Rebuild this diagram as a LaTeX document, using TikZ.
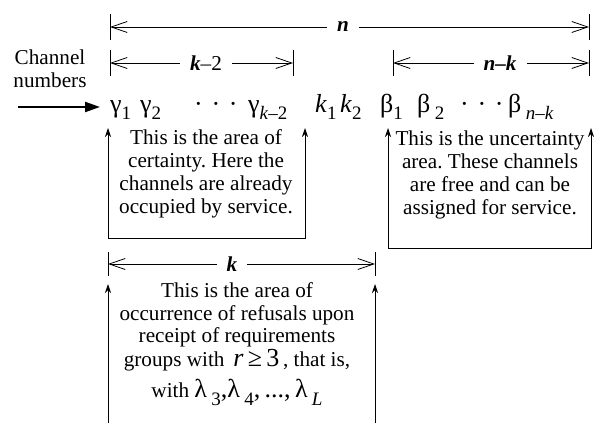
\documentclass[tikz,border=0pt]{standalone}
\usepackage{fontspec}
\setmainfont{Liberation Serif}
\usetikzlibrary{arrows.meta, calc}
\frenchspacing

\newcommand{\chsub}[1]{\raisebox{-0.3em}{\fontsize{19}{19}\selectfont #1}}

\begin{document}
\begin{tikzpicture}[
  x=1pt, y=-1pt,
  txt/.style={font=\fontsize{21.2}{22.8}\selectfont, align=center, inner sep=0pt},
  dimarr/.style={{Straight Barb[length=16pt,width=11pt]}-{Straight Barb[length=16pt,width=11pt]}, line width=0.8pt},
  dimbar/.style={line width=0.8pt},
  dimlab/.style={txt, fill=white, inner xsep=10pt, inner ysep=2pt},
  uparr/.style={{Stealth[length=9pt,width=6pt]}-{Stealth[length=9pt,width=6pt]}, line width=0.8pt},
  feedarr/.style={-{Triangle[length=15pt,width=10pt]}, line width=2.2pt},
  sym/.style={anchor=base west, inner sep=0pt, font=\fontsize{26}{26}\selectfont},
]
\useasboundingbox (0,0) rectangle (597,423);

% --- dimension lines above the channel row ---
\coordinate (nL) at (110,27);   \coordinate (nR) at (589,27);
\coordinate (kmL) at (110,63);  \coordinate (kmR) at (293,63);
\coordinate (nkL) at (393,63);  \coordinate (nkR) at (589,63);
\draw[dimarr] (nL) -- (nR);
\draw[dimarr] (kmL) -- (kmR);
\draw[dimarr] (nkL) -- (nkR);
\foreach \c in {nL,nR,kmL,kmR,nkL,nkR}
  \draw[dimbar] ($(\c)+(0,-13)$) -- ($(\c)+(0,13)$);
\node[dimlab] (nlab) at (343,27) {\textbf{\textit{n}}};
\node[dimlab] (kmlab) at (206,63) {\textbf{\textit{k}}–2};
\node[dimlab] (nklab) at (500,63) {\textbf{\textit{n–k}}};

% --- channel numbers ---
\node[txt] (chan) at (50,69) {Channel\\ numbers};
\coordinate (feed) at (18,107);
\node[sym] (g1) at (110,112) {γ\chsub{1}};
\node[sym] (g2) at (140,112) {γ\chsub{2}};
\node[sym] (gdots) at (194,112) {·\,\,·\,\,·};
\node[sym] (gk) at (248,112) {γ\chsub{\textit{k}–2}};
\node[sym] (k1) at (315,112) {\textit{k}\chsub{1}};
\node[sym] (k2) at (340,112) {\textit{k}\chsub{2}};
\node[sym] (b1) at (380,112) {β\chsub{1}};
\node[sym] (b2) at (417,112) {β\,\chsub{2}};
\node[sym] (bdots) at (460,112) {·\,\,·\,\,·};
\node[sym] (bnk) at (508,112) {β\,\chsub{\textit{n–k}}};
\draw[feedarr] (feed) -- (feed -| 100,0);

% --- area of certainty ---
\node[txt] (certain) at (206,174)
  {This is the area of\\ certainty. Here the\\ channels are already\\ occupied by service.};
\draw[uparr] (108,128) -- (108,238) -- (305,238) -- (305,128);

% --- uncertainty area ---
\node[txt] (uncert) at (490,175)
  {This is the uncertainty\\ area. These channels\\ are free and can be\\ assigned for service.};
\draw[uparr] (388,128) -- (388,248) -- (591,248) -- (591,128);

% --- area of refusals ---
\coordinate (kL) at (108,264); \coordinate (kR) at (375,264);
\draw[dimarr] (kL) -- (kR);
\foreach \c in {kL,kR}
  \draw[dimbar] ($(\c)+(0,-12)$) -- ($(\c)+(0,12)$);
\node[dimlab] (klab) at (232,264) {\textbf{\textit{k}}};
\node[txt] (refuse) at (237,344)
  {This is the area of\\ occurrence of refusals upon\\ receipt of requirements\\[1pt]
   groups with \,{\fontsize{26}{26}\selectfont\textit{r}\,≥\,3}\,, that is,\\[7pt]
   with {\fontsize{26}{26}\selectfont λ\,\chsub{3},λ\,\chsub{4},\,...,\,λ\,\chsub{\textit{L}}}};
\draw[-{Stealth[length=9pt,width=6pt]}, line width=0.8pt] (108,423) -- (108,284);
\draw[-{Stealth[length=9pt,width=6pt]}, line width=0.8pt] (375,423) -- (375,284);

\end{tikzpicture}
\end{document}
